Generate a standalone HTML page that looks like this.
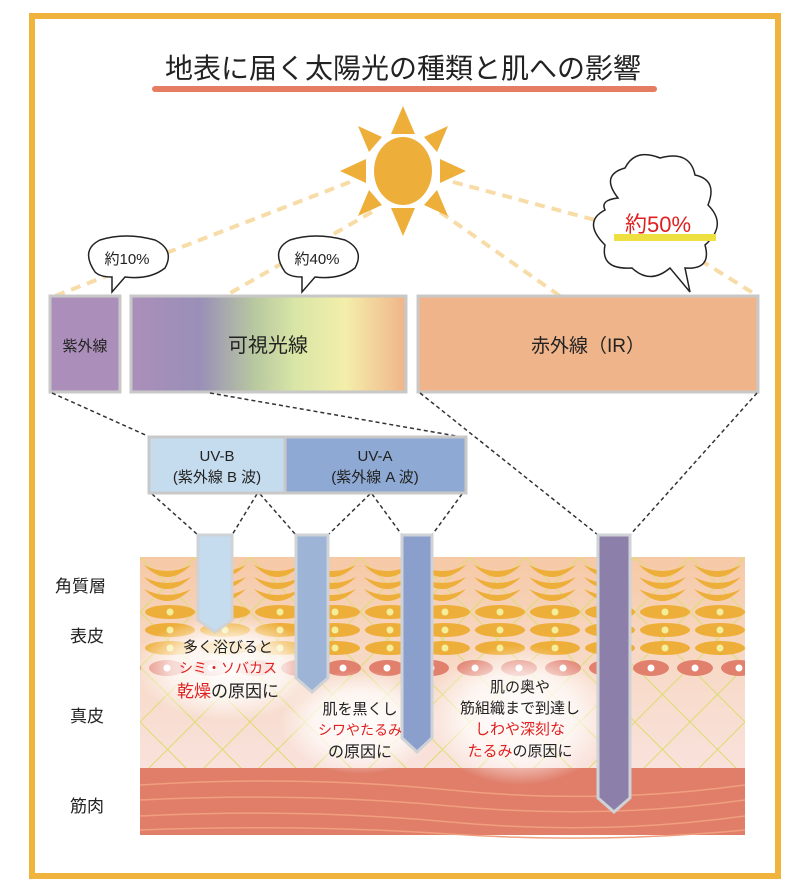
<!DOCTYPE html>
<html><head><meta charset="utf-8"><style>
body{margin:0;background:#fff;}
svg{display:block;}
text{font-family:"Liberation Sans","Noto Sans CJK JP",sans-serif;}
</style></head><body>
<svg width="805" height="892" viewBox="0 0 805 892" xmlns="http://www.w3.org/2000/svg">
<defs>
<linearGradient id="vis" x1="0" x2="1" y1="0" y2="0">
<stop offset="0" stop-color="#ab8fba"/><stop offset="0.25" stop-color="#9a8fb8"/>
<stop offset="0.45" stop-color="#b8c8a0"/><stop offset="0.6" stop-color="#d9e6a6"/>
<stop offset="0.78" stop-color="#f4eeaa"/><stop offset="1" stop-color="#f0b48a"/>
</linearGradient>
<linearGradient id="skin" x1="0" x2="0" y1="0" y2="1">
<stop offset="0" stop-color="#f6c9a6"/><stop offset="0.45" stop-color="#f7d8c4"/><stop offset="1" stop-color="#f9e2dc"/>
</linearGradient>
<pattern id="grid" width="55" height="55" patternUnits="userSpaceOnUse" x="140" y="557">
<path d="M0 0L55 55M55 0L0 55" stroke="#dcdc70" stroke-width="1"/>
</pattern>
<pattern id="arcs" width="55" height="45" patternUnits="userSpaceOnUse" x="140" y="562">
<path d="M4 3 Q27 27 51 3 Q27 15 4 3Z M4 15 Q27 39 51 15 Q27 27 4 15Z M4 27 Q27 51 51 27 Q27 39 4 27Z" fill="#eeae3a"/>
</pattern>
<pattern id="ovals" width="55" height="60" patternUnits="userSpaceOnUse" x="143" y="604">
<ellipse cx="27" cy="8" rx="25" ry="7" fill="#eeae3a"/><circle cx="27" cy="8" r="3.5" fill="#f4ee9a"/>
<ellipse cx="27" cy="26" rx="25" ry="7" fill="#eeae3a"/><circle cx="27" cy="26" r="3.5" fill="#f4ee9a"/>
<ellipse cx="27" cy="44" rx="25" ry="7" fill="#eeae3a"/><circle cx="27" cy="44" r="3.5" fill="#f4ee9a"/>
</pattern>
<pattern id="red" width="44" height="20" patternUnits="userSpaceOnUse" x="145" y="658">
<ellipse cx="22" cy="10" rx="18" ry="8" fill="#e2806e"/><circle cx="22" cy="10" r="3.5" fill="#fff"/>
</pattern>
<radialGradient id="glow"><stop offset="0" stop-color="#fff" stop-opacity="0.95"/><stop offset="0.6" stop-color="#fff" stop-opacity="0.7"/><stop offset="1" stop-color="#fff" stop-opacity="0"/></radialGradient>
</defs>
<rect x="32" y="16" width="746" height="860" fill="#fff" stroke="#f0b43c" stroke-width="6"/>
<text x="403" y="78" font-size="28" text-anchor="middle" fill="#222">地表に届く太陽光の種類と肌への影響</text>
<rect x="152" y="86" width="505" height="6" rx="3" fill="#e67c62"/>
<g stroke="#f8dca8" stroke-width="4" stroke-dasharray="10 7" fill="none">
<path d="M350 182 L55 296"/><path d="M372 212 L225 296"/><path d="M453 182 L595 220"/><path d="M440 212 L560 296"/><path d="M700 260 L758 296"/>
</g>
<g fill="#eeae3a">
<polygon points="403,106 391,134 415,134"/><polygon points="403,236 391,208 415,208"/>
<polygon points="340,171 366,159 366,183"/><polygon points="466,171 440,159 440,183"/>
<polygon points="358,126 382,137 369,152"/><polygon points="448,126 424,137 437,152"/>
<polygon points="358,216 382,205 369,190"/><polygon points="448,216 424,205 437,190"/>
<ellipse cx="403" cy="171" rx="29" ry="34"/>
</g>
<g fill="#fff" stroke="#222" stroke-width="1.5">
<path d="M95 272 Q80 250 100 240 Q125 232 155 240 Q175 250 165 268 Q150 280 125 277 L112 292 L112 277 Q100 277 95 272Z"/>
<path d="M285 272 Q270 250 290 240 Q315 232 345 240 Q365 250 355 268 Q340 280 315 277 L302 292 L302 277 Q290 277 285 272Z"/>
<path d="M618 198 Q600 175 625 168 Q635 148 660 158 Q690 150 695 175 Q718 180 708 205 Q728 225 705 245 Q712 270 685 268 L690 292 L670 268 Q650 285 632 268 Q600 270 605 245 Q582 222 605 210 Q600 200 618 198Z"/>
</g>
<text x="127" y="264" font-size="15" text-anchor="middle" fill="#222">約10%</text>
<text x="317" y="264" font-size="15" text-anchor="middle" fill="#222">約40%</text>
<rect x="614" y="234" width="102" height="7" fill="#eee040"/>
<text x="658" y="232" font-size="22" text-anchor="middle" fill="#e02020">約50%</text>
<g stroke="#c8c8c8" stroke-width="3">
<rect x="50" y="296" width="70" height="96" fill="#ab8fba"/>
<rect x="131" y="296" width="275" height="96" fill="url(#vis)"/>
<rect x="418" y="296" width="340" height="96" fill="#efb48a"/>
</g>
<text x="85" y="351" font-size="15" text-anchor="middle" fill="#222">紫外線</text>
<text x="268" y="352" font-size="20" text-anchor="middle" fill="#222">可視光線</text>
<text x="588" y="352" font-size="19" text-anchor="middle" fill="#222">赤外線（IR）</text>
<g stroke="#333" stroke-width="1.5" stroke-dasharray="4 3" fill="none">
<path d="M52 393 L150 437"/><path d="M210 393 L462 437"/>
<path d="M420 393 L598 535"/><path d="M757 393 L630 535"/>
<path d="M152 494 L198 535"/><path d="M257 494 L232 535"/><path d="M260 494 L296 535"/><path d="M370 494 L328 535"/><path d="M372 494 L402 535"/><path d="M462 494 L432 535"/>
</g>
<g stroke="#c8c8c8" stroke-width="3">
<rect x="149" y="437" width="136" height="56" fill="#c5dcef"/>
<rect x="285" y="437" width="181" height="56" fill="#8eaad4"/>
</g>
<text x="217" y="461" font-size="15" text-anchor="middle" fill="#222">UV-B</text>
<text x="217" y="482" font-size="15" text-anchor="middle" fill="#222">(紫外線 B 波)</text>
<text x="375" y="461" font-size="15" text-anchor="middle" fill="#222">UV-A</text>
<text x="375" y="482" font-size="15" text-anchor="middle" fill="#222">(紫外線 A 波)</text>
<rect x="140" y="557" width="605" height="212" fill="url(#skin)"/>
<rect x="140" y="557" width="605" height="212" fill="url(#grid)"/>
<rect x="140" y="562" width="605" height="45" fill="url(#arcs)"/>
<rect x="140" y="604" width="605" height="54" fill="url(#ovals)"/>
<rect x="140" y="658" width="605" height="20" fill="url(#red)"/>
<rect x="140" y="768" width="605" height="67" fill="#e07e6a"/>
<g stroke="#f0a07e" stroke-width="1.5" fill="none">
<path d="M140 785 Q300 775 450 790 T745 785"/><path d="M140 800 Q300 792 450 806 T745 800"/><path d="M140 816 Q300 808 450 822 T745 816"/><path d="M140 830 Q300 824 450 834 T745 830"/>
</g>
<ellipse cx="228" cy="668" rx="95" ry="52" fill="url(#glow)"/>
<ellipse cx="360" cy="722" rx="80" ry="52" fill="url(#glow)"/>
<ellipse cx="520" cy="715" rx="95" ry="70" fill="url(#glow)"/>
<g stroke="#cfd2d6" stroke-width="3">
<path d="M198 535 L232 535 L232 620 L215 632 L198 620Z" fill="#c5dcef"/>
<path d="M296 535 L328 535 L328 678 L312 692 L296 678Z" fill="#9db4d6"/>
<path d="M402 535 L432 535 L432 738 L417 752 L402 738Z" fill="#8a9fcc"/>
<path d="M598 535 L630 535 L630 798 L614 812 L598 798Z" fill="#8c80aa"/>
</g>
<g font-size="15" text-anchor="middle" fill="#222">
<text x="228" y="652">多く浴びると</text>
<text x="228" y="673" fill="#e02020" font-size="14">シミ・ソバカス</text>
<text x="228" y="697" font-size="17"><tspan fill="#e02020">乾燥</tspan>の原因に</text>
<text x="360" y="714">肌を黒くし</text>
<text x="360" y="735" fill="#e02020" font-size="14">シワやたるみ</text>
<text x="360" y="757" font-size="16">の原因に</text>
<text x="520" y="692">肌の奥や</text>
<text x="520" y="713">筋組織まで到達し</text>
<text x="520" y="734" fill="#e02020">しわや深刻な</text>
<text x="520" y="756"><tspan fill="#e02020">たるみ</tspan>の原因に</text>
</g>
<g font-size="17" fill="#222">
<text x="55" y="592">角質層</text>
<text x="70" y="642">表皮</text>
<text x="70" y="722">真皮</text>
<text x="70" y="812">筋肉</text>
</g>
</svg>
</body></html>
